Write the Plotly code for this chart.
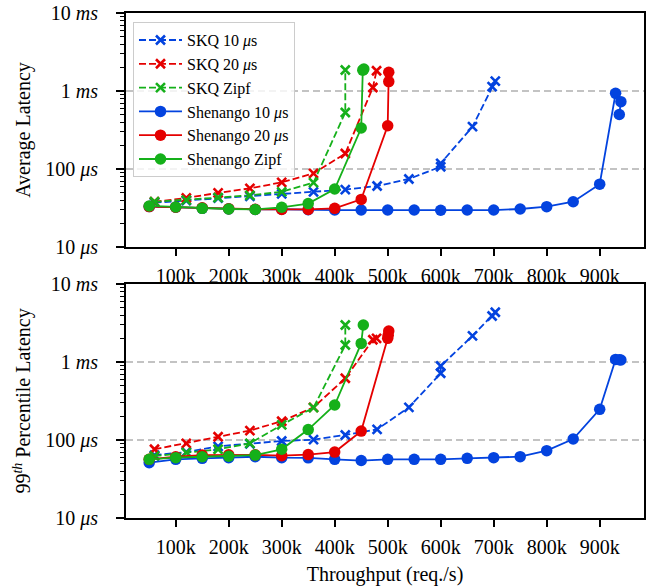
import plotly.graph_objects as go

# ---------------- data (latency in microseconds, throughput in req/s) ----------------
skq10_x = [60e3, 120e3, 180e3, 240e3, 300e3, 360e3, 420e3, 480e3, 540e3, 600e3, 600e3, 660e3, 697e3, 703e3]
skq10_avg = [37, 39.5, 42.5, 44.5, 48, 51, 54.5, 60.5, 74.5, 107, 118, 349, 1140, 1340]
skq10_p99 = [64, 70, 83, 89, 97, 101, 116, 137, 262, 717, 889, 2160, 3890, 4340]

skq20_x = [60e3, 120e3, 180e3, 240e3, 300e3, 360e3, 420e3, 472e3, 479e3]
skq20_avg = [38, 42.5, 49.5, 56.5, 67.5, 88, 158, 1110, 1820]
skq20_p99 = [76, 90.6, 110, 132, 174, 262, 618, 1930, 2010]

skqz_x = [60e3, 120e3, 180e3, 240e3, 300e3, 360e3, 420e3, 420e3]
skqz_avg = [38, 40, 43, 46, 51, 67, 530, 1860]
skqz_p99 = [62, 69, 76, 90.6, 156, 260, 1650, 2980]

sh10_x = [50e3, 100e3, 150e3, 200e3, 250e3, 300e3, 350e3, 400e3, 450e3, 500e3, 550e3, 600e3,
          650e3, 700e3, 750e3, 800e3, 850e3, 900e3, 930e3, 940e3, 937e3]
sh10_avg = [33, 32.3, 31.3, 30.7, 30.3, 30.5, 30, 29.8, 29.8, 29.8, 29.8, 29.6,
            29.8, 29.8, 30.7, 32.9, 38.1, 64, 933, 730, 500]
sh10_p99 = [51.2, 56.5, 58.2, 59.4, 61, 59.4, 59, 56.5, 54.5, 56.5, 56.5, 56.5,
            58.2, 59.4, 61.1, 73, 103, 247, 1080, 1060, 1070]

sh20_x_avg = [50e3, 100e3, 150e3, 200e3, 250e3, 300e3, 350e3, 400e3, 450e3, 500e3, 502e3, 502e3]
sh20_avg = [33, 32.3, 31.8, 31, 30.5, 30.3, 30.3, 31.3, 40.8, 359, 1320, 1740]
sh20_x_p99 = [50e3, 100e3, 150e3, 200e3, 250e3, 300e3, 350e3, 400e3, 450e3, 500e3, 502e3, 501e3]
sh20_p99 = [56.5, 61, 64, 64.5, 64.5, 63, 65, 70, 130, 2010, 2500, 2200]

shz_x_avg = [50e3, 100e3, 150e3, 200e3, 250e3, 300e3, 350e3, 400e3, 450e3, 453e3, 455e3]
shz_avg = [33.6, 32.6, 31.3, 30.7, 30.3, 32.3, 36, 55.4, 335, 1850, 1910]
shz_x_p99 = [50e3, 100e3, 150e3, 200e3, 250e3, 300e3, 350e3, 400e3, 450e3, 454e3]
shz_p99 = [56.5, 59.4, 61, 62, 64, 76, 136, 281, 1730, 2980]

x_tick_vals = [100e3, 200e3, 300e3, 400e3, 500e3, 600e3, 700e3, 800e3, 900e3]
x_tick_text = ["100k", "200k", "300k", "400k", "500k", "600k", "700k", "800k", "900k"]
y_tick_vals = [10, 100, 1000, 10000]
y_tick_text = ["10 <i>μs</i>", "100 <i>μs</i>", "1 <i>ms</i>", "10 <i>ms</i>"]
ref_lines = [100, 1000]

# ---------------- styling ----------------
BLUE = "#0343df"
RED = "#e50000"
GREEN = "#15b01a"
FONT = "Liberation Serif, Times New Roman, serif"

series = [
    ("SKQ 10 <i>μ</i>s", skq10_x, skq10_avg, skq10_x, skq10_p99, BLUE, True),
    ("SKQ 20 <i>μ</i>s", skq20_x, skq20_avg, skq20_x, skq20_p99, RED, True),
    ("SKQ Zipf", skqz_x, skqz_avg, skqz_x, skqz_p99, GREEN, True),
    ("Shenango 10 <i>μ</i>s", sh10_x, sh10_avg, sh10_x, sh10_p99, BLUE, False),
    ("Shenango 20 <i>μ</i>s", sh20_x_avg, sh20_avg, sh20_x_p99, sh20_p99, RED, False),
    ("Shenango Zipf", shz_x_avg, shz_avg, shz_x_p99, shz_p99, GREEN, False),
]

fig = go.Figure()
for name, xa, ya, xp, yp, col, dashed in series:
    if dashed:
        line = dict(color=col, width=1.8, dash="7px,3px")
        marker = dict(symbol="x-thin", size=9, color=col, line=dict(color=col, width=2.6))
    else:
        line = dict(color=col, width=1.8)
        marker = dict(symbol="circle", size=11.5, color=col, line=dict(width=0))
    fig.add_trace(go.Scatter(x=xa, y=ya, mode="lines+markers", name=name, line=line,
                             marker=marker, xaxis="x", yaxis="y", showlegend=True))
    fig.add_trace(go.Scatter(x=xp, y=yp, mode="lines+markers", name=name, line=line,
                             marker=marker, xaxis="x2", yaxis="y2", showlegend=False))

minor_vals = [m * 10 ** e for e in range(1, 4) for m in range(2, 10)]

xaxis_common = dict(
    range=[6.2e3, 983.6e3], tickmode="array", tickvals=x_tick_vals, ticktext=x_tick_text,
    ticks="outside", ticklen=7, tickwidth=1.5, tickcolor="black",
    showline=True, linecolor="black", linewidth=2, mirror=True,
    showgrid=False, zeroline=False, ticklabelstandoff=3, automargin=False,
    tickfont=dict(family=FONT, size=20, color="black"),
)
yaxis_common = dict(
    type="log", range=[1, 4], tickmode="array", tickvals=y_tick_vals, ticktext=y_tick_text,
    ticks="outside", ticklen=8, tickwidth=1.5, tickcolor="black",
    minor=dict(tickmode="array", tickvals=minor_vals, ticks="outside", ticklen=4,
               tickwidth=1, tickcolor="black", showgrid=False),
    showline=True, linecolor="black", linewidth=2, mirror=True,
    showgrid=False, zeroline=False, ticklabelstandoff=14, automargin=False,
    tickfont=dict(family=FONT, size=20, color="black"),
)

fig.update_layout(
    width=648, height=588,
    margin=dict(l=126, r=4, t=13, b=70),
    paper_bgcolor="white", plot_bgcolor="white",
    font=dict(family=FONT, size=20, color="black"),
    xaxis=dict(domain=[0, 1], anchor="y", **xaxis_common),
    yaxis=dict(domain=[0.5366, 1], anchor="x",
               title=dict(text="Average Latency", font=dict(family=FONT, size=20), standoff=9),
               **yaxis_common),
    xaxis2=dict(domain=[0, 1], anchor="y2",
                title=dict(text="Throughput (req./s)", font=dict(family=FONT, size=20), standoff=10),
                **xaxis_common),
    yaxis2=dict(domain=[0, 0.4634], anchor="x2",
                title=dict(text="99<sup><i>th</i></sup> Percentile Latency",
                           font=dict(family=FONT, size=20), standoff=9),
                **yaxis_common),
    legend=dict(x=0.0135, y=0.982, xanchor="left", yanchor="top",
                bgcolor="rgba(255,255,255,0.8)", bordercolor="#cccccc", borderwidth=1,
                font=dict(family=FONT, size=16, color="black"),
                tracegroupgap=0, itemwidth=43),
    showlegend=True,
)

for ax_x, ax_y in [("x", "y"), ("x2", "y2")]:
    for v in ref_lines:
        fig.add_shape(type="line", xref=f"{ax_x} domain", yref=ax_y, x0=0, x1=1, y0=v, y1=v,
                      line=dict(color="#b0b0b0", width=1.6, dash="7px,4px"), layer="below")

fig.write_html(
    "out.html",
    config={"displayModeBar": False},
    post_script="document.body.style.margin='0px';document.body.style.overflow='hidden';",
)
